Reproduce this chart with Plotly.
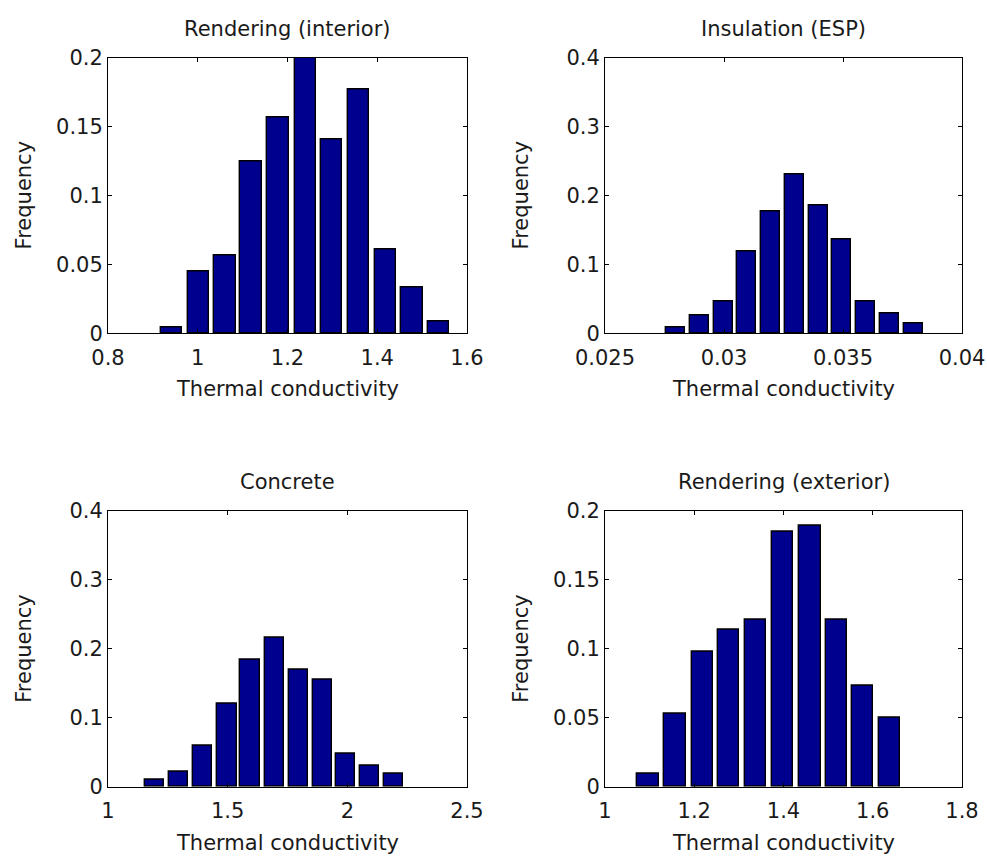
import plotly.graph_objects as go

# ---- data ----
titles = ["Rendering (interior)", "Insulation (ESP)", "Concrete", "Rendering (exterior)"]

interior_centers = [0.941, 1.001, 1.061, 1.119, 1.179, 1.2395, 1.298, 1.358, 1.419, 1.477, 1.537]
interior_freq = [0.0041, 0.0447, 0.0563, 0.1244, 0.1565, 0.200, 0.1406, 0.1768, 0.0609, 0.0333, 0.0085]

esp_centers = [0.02797, 0.02897, 0.02997, 0.03094, 0.03195, 0.03296, 0.03397, 0.03495, 0.03596, 0.03697, 0.03798]
esp_freq = [0.0082, 0.0257, 0.0461, 0.1188, 0.1770, 0.2298, 0.1852, 0.1367, 0.0461, 0.0286, 0.0145]

concrete_centers = [1.193, 1.295, 1.395, 1.497, 1.593, 1.694, 1.795, 1.896, 1.993, 2.093, 2.194]
concrete_freq = [0.0097, 0.0213, 0.0594, 0.1198, 0.1836, 0.2155, 0.1690, 0.1550, 0.0473, 0.0300, 0.0188]

exterior_centers = [1.0964, 1.157, 1.218, 1.277, 1.337, 1.398, 1.459, 1.519, 1.577, 1.638]
exterior_freq = [0.0092, 0.0527, 0.0976, 0.1135, 0.1208, 0.1845, 0.1889, 0.1208, 0.0729, 0.0500]

x_ranges = [[0.8, 1.6], [0.025, 0.04], [1.0, 2.5], [1.0, 1.8]]
x_dticks = [0.2, 0.005, 0.5, 0.2]
y_ranges = [[0, 0.2], [0, 0.4], [0, 0.4], [0, 0.2]]
y_dticks = [0.05, 0.1, 0.1, 0.05]
bin_widths = [0.0596, 0.00100, 0.1001, 0.0603]

series = [
    (interior_centers, interior_freq),
    (esp_centers, esp_freq),
    (concrete_centers, concrete_freq),
    (exterior_centers, exterior_freq),
]

# ---- layout geometry ----
W, H = 987, 856
x_domains = [[108 / W, 467 / W], [605 / W, 962 / W]]
y_domains = [[1 - 333.3 / H, 1 - 57.5 / H], [1 - 786.7 / H, 1 - 510.7 / H]]

BAR_COLOR = "#00008F"
FONT = "DejaVu Sans, sans-serif"
FS = 21
TXT = "#1a1a1a"

fig = go.Figure()
annotations = []

for i, (cx, fy) in enumerate(series):
    row, col = divmod(i, 2)
    n = i + 1
    xa = "x" if n == 1 else f"x{n}"
    ya = "y" if n == 1 else f"y{n}"
    fig.add_trace(go.Bar(
        x=cx, y=fy, width=bin_widths[i] * 0.8,
        marker=dict(color=BAR_COLOR, line=dict(color="black", width=1.4)),
        xaxis=xa, yaxis=ya, showlegend=False,
    ))
    axis_common = dict(
        showline=True, linecolor="black", linewidth=1, mirror="ticks",
        ticks="inside", ticklen=4, tickcolor="black", tickwidth=1,
        showgrid=False, zeroline=False, automargin=False,
        tickfont=dict(family=FONT, size=FS, color=TXT),
    )
    fig.layout[f"xaxis{'' if n == 1 else n}"] = dict(
        domain=x_domains[col], anchor=ya, range=x_ranges[i],
        tick0=x_ranges[i][0], dtick=x_dticks[i], ticklabelstandoff=5,
        **axis_common,
    )
    fig.layout[f"yaxis{'' if n == 1 else n}"] = dict(
        domain=y_domains[row], anchor=xa, range=y_ranges[i],
        tick0=0, dtick=y_dticks[i], **axis_common,
    )
    xd, yd = x_domains[col], y_domains[row]
    xc = (xd[0] + xd[1]) / 2
    top_px = (1 - yd[1]) * H
    bot_px = (1 - yd[0]) * H
    # title
    annotations.append(dict(
        text=titles[i], x=xc, y=1 - (top_px - 29) / H, xref="paper", yref="paper",
        xanchor="center", yanchor="middle", showarrow=False,
        font=dict(family=FONT, size=FS, color=TXT),
    ))
    # x label
    annotations.append(dict(
        text="Thermal conductivity", x=xc, y=1 - (bot_px + 56) / H, xref="paper", yref="paper",
        xanchor="center", yanchor="middle", showarrow=False,
        font=dict(family=FONT, size=FS, color=TXT),
    ))
    # y label
    annotations.append(dict(
        text="Frequency", x=(xd[0] * W - 84) / W, y=(yd[0] + yd[1]) / 2,
        xref="paper", yref="paper", xanchor="center", yanchor="middle",
        textangle=-90, showarrow=False,
        font=dict(family=FONT, size=FS, color=TXT),
    ))

fig.update_layout(
    width=W, height=H, autosize=False,
    margin=dict(l=0, r=0, t=0, b=0),
    paper_bgcolor="white", plot_bgcolor="white",
    bargap=0, annotations=annotations,
)

fig.write_html("out.html")
